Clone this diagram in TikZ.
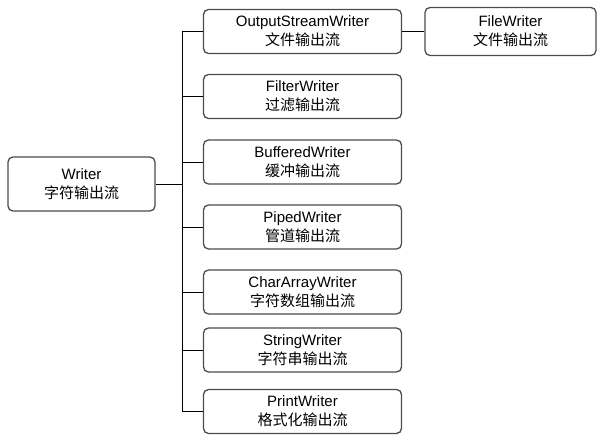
\documentclass[tikz,border=0pt]{standalone}
\usepackage{fontspec}
\setmainfont{Liberation Sans}
\newfontfamily\cjk{Noto Sans CJK SC}
\usetikzlibrary{positioning}
\tikzstyle{every node}=[font=\fontsize{15}{19}\selectfont]
\tikzstyle{classbox}=[draw=black!70, fill=white, line width=1.3pt, rounded corners=5pt,
  align=center, inner sep=0pt, minimum height=44pt]
\tikzstyle{link}=[line width=0.9pt, black]

\begin{document}
\begin{tikzpicture}[x=1pt,y=-1pt]
  \useasboundingbox (0,0) rectangle (603,441);

  % trunk
  \coordinate (trunktop) at (182,31.5);
  \coordinate (trunkbot) at (182,411.5);
  \draw[link] (trunktop) -- (trunkbot);

  % Writer
  \node[classbox, minimum width=147pt, minimum height=54pt] (writer) at (81.5,184)
    {Writer\\{\cjk 字符输出流}};
  \draw[link] (writer.east) -- (writer.east -| trunktop);

  % subclasses
  \foreach \nm/\yy/\en/\zh in {osw/31.5/OutputStreamWriter/文件输出流,
      fw/96.5/FilterWriter/过滤输出流,
      bw/162/BufferedWriter/缓冲输出流,
      pw/227/PipedWriter/管道输出流,
      caw/292/CharArrayWriter/字符数组输出流,
      sw/350/StringWriter/字符串输出流,
      prw/411.5/PrintWriter/格式化输出流}
  {
    \node[classbox, minimum width=198pt] (\nm) at (302.5,\yy) {\en\\{\cjk \zh}};
    \draw[link] (\nm.west) -- (\nm.west -| trunktop);
  }

  % FileWriter
  \node[classbox, minimum width=171pt, minimum height=48pt] (filew) at (510.5,31.5)
    {FileWriter\\{\cjk 文件输出流}};
  \draw[link] (osw.east) -- (filew.west);
\end{tikzpicture}
\end{document}
